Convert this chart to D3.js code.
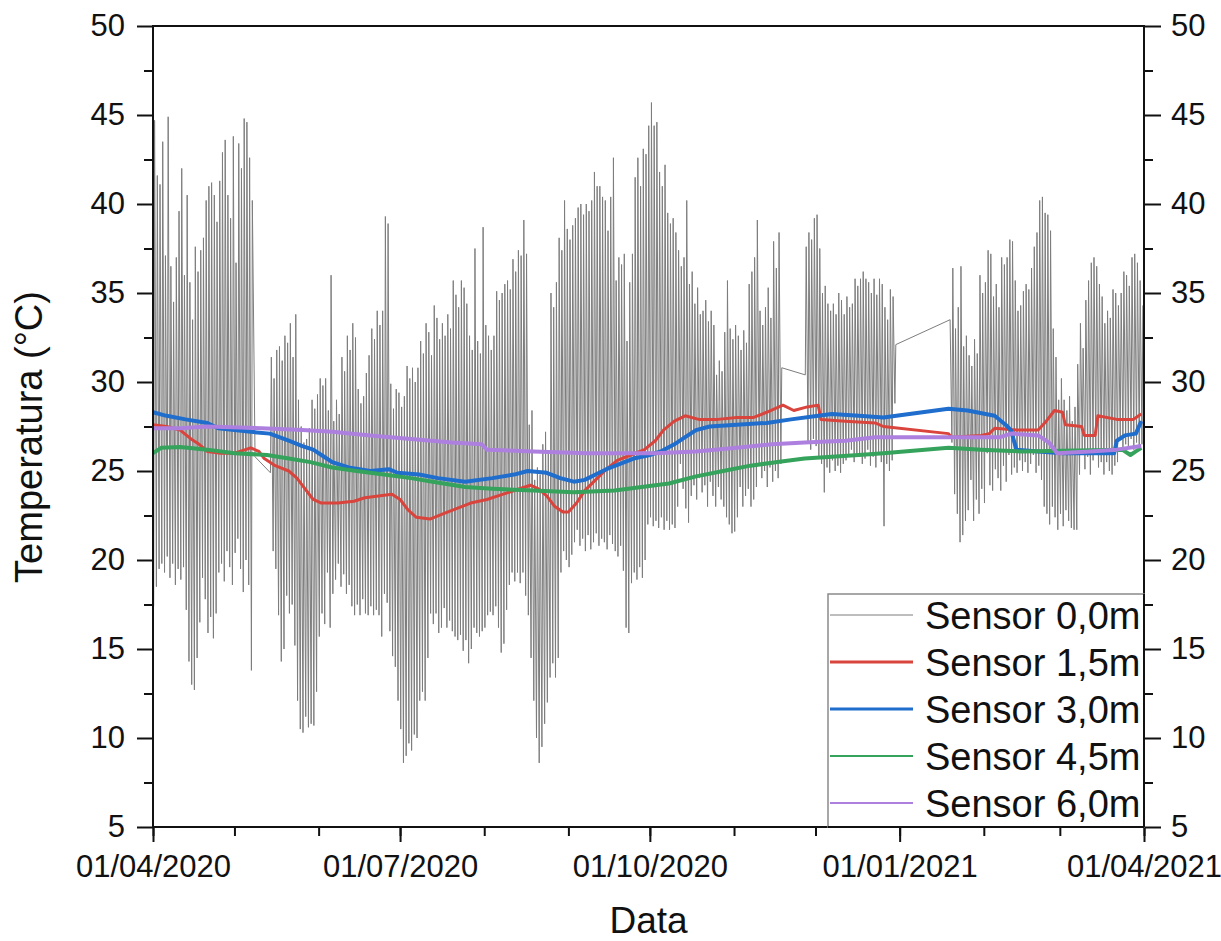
<!DOCTYPE html>
<html>
<head>
<meta charset="utf-8">
<script src="https://cdn.jsdelivr.net/npm/d3@7"></script>
<style>
  body { margin: 0; background: #fff; }
  svg text { font-family: "Liberation Sans", Arial, Helvetica, sans-serif; fill: #111; }
</style>
</head>
<body>
<div id="chart"></div>
<script>
// ---- data ----
// Sensor 0,0m: daily max / min, index = days since startDay (null = no record)
const startDay = "2020-04-01";
const surfaceMax = [
  44.7, 41.6, 41.1, 43.5, 37.1, 44.9, 36.5, 34.5, 37.0, 39.6,
  42.0, 36.0, 40.5, 35.6, 33.5, 37.6, 36.2, 37.4, 38.1, 40.2,
  41.0, 41.2, 40.5, 39.0, 41.3, 42.9, 43.6, 40.5, 39.2, 43.8,
  36.7, 43.4, 42.0, 44.8, 44.6, 42.6, 40.2, 25.8, null, null,
  null, null, null, 31.4, 30.2, 31.8, 32.0, 31.2, 32.6, 32.2,
  33.3, 31.4, 33.8, 29.0, 27.5, 26.6, 26.8, 27.4, 29.0, 28.5,
  29.3, 30.2, 29.8, 30.2, 28.4, 36.0, 27.8, 29.0, 28.2, 31.4,
  30.6, 32.6, 31.8, 33.3, 32.5, 29.6, 28.8, 29.2, 30.5, 31.5,
  33.0, 32.4, 34.0, 33.2, 34.0, 39.3, 38.9, 29.9, 28.5, 29.6,
  29.4, 28.6, 29.2, 30.9, 30.2, 30.8, 30.0, 30.8, 32.3, 31.6,
  33.3, 32.8, 31.5, 34.3, 33.6, 32.4, 33.3, 32.6, 33.8, 33.0,
  35.7, 34.9, 34.2, 35.7, 35.3, 34.4, 32.6, 31.8, 37.5, 32.3,
  31.6, 38.7, 33.2, 32.6, 31.8, 32.6, 35.1, 34.6, 35.0, 35.5,
  35.7, 35.2, 36.9, 36.2, 37.4, 37.1, 39.1, 37.2, 27.6, 28.4,
  24.5, 25.2, 24.8, 26.5, 27.2, 26.0, 35.0, 34.2, 35.6, 38.1,
  37.4, 40.2, 38.6, 38.0, 38.8, 39.2, 39.8, 40.0, 39.4, 40.0,
  39.6, 40.2, 41.8, 41.0, 41.0, 40.4, 40.2, 38.5, 40.4, 42.6,
  35.7, 37.0, 36.6, 37.2, 32.3, 35.6, 37.2, 41.5, 42.6, 41.0,
  43.1, 42.8, 44.4, 45.7, 44.4, 44.6, 41.8, 41.0, 42.2, 39.5,
  38.9, 39.2, 38.4, 37.4, 36.5, 37.0, 40.2, 35.5, 36.2, 34.4,
  35.3, 33.8, 34.0, 34.6, 33.4, 34.0, 33.2, 30.4, 31.2, 30.6,
  32.8, 35.7, 33.0, 32.4, 33.2, 32.6, 31.8, 32.9, 32.2, 35.5,
  36.2, 37.0, 39.1, 34.0, 33.2, 34.2, 35.3, 33.6, 37.9, 36.4,
  38.4, 30.8, null, null, null, null, null, null, null, null,
  37.6, 38.4, 38.0, 39.2, 39.4, 37.5, 35.0, 35.4, 34.4, 34.0,
  34.4, 33.8, 35.0, 34.6, 33.8, 34.8, 34.2, 34.4, 35.8, 35.4,
  35.8, 36.2, 35.8, 35.6, 35.0, 35.8, 34.9, 35.8, 35.5, 34.2,
  33.5, 35.2, 34.8, 32.1, null, null, null, null, null, null,
  null, null, null, null, null, null, null, null, null, null,
  null, null, null, 33.5, 36.4, 33.0, 34.2, 36.5, 32.0, 32.6,
  31.5, 30.9, 32.4, 31.6, 36.0, 35.0, 35.6, 37.4, 37.2, 34.8,
  35.5, 34.2, 37.0, 36.6, 37.0, 38.0, 37.9, 35.7, 34.0, 34.3,
  35.1, 35.5, 35.2, 36.4, 37.6, 38.4, 40.2, 40.4, 39.5, 39.4,
  38.5, 33.0, 31.4, 29.0, 30.2, 29.0, 28.4, 29.2, 27.8, 28.6,
  31.0, 33.3, 31.9, 34.6, 35.7, 36.7, 37.0, 36.5, 35.5, 34.8,
  33.3, 34.0, 33.6, 35.2, 35.0, 34.3, 35.0, 36.2, 36.0, 35.4,
  37.0, 37.2, 36.7, 35.7, 34.3
];
const surfaceMin = [
  17.4, 18.5, 19.5, 19.8, 19.3, 20.2, 19.0, 19.8, 18.6, 19.5,
  18.9, 19.6, 17.2, 14.3, 13.0, 12.7, 14.5, 16.5, 19.0, 17.8,
  15.9, 16.8, 15.6, 17.0, 19.3, 19.8, 18.8, 20.5, 19.6, 18.6,
  20.4, 21.2, 19.5, 18.2, 20.0, 18.6, 13.8, null, null, null,
  null, null, null, 24.9, 20.5, 19.5, 16.9, 14.3, 15.0, 18.0,
  17.0, 17.5, 15.2, 12.1, 10.5, 10.3, 11.2, 10.6, 10.8, 10.7,
  12.6, 15.7, 17.0, 16.4, 19.3, 16.2, 18.1, 18.9, 19.8, 18.5,
  19.2, 18.1, 18.6, 17.4, 16.9, 17.5, 16.9, 17.8, 17.0, 16.9,
  17.4, 16.9, 17.2, 16.9, 15.7, 18.1, 17.6, 16.0, 14.6, 14.0,
  12.1, 10.5, 8.6, 9.0, 9.7, 9.3, 10.2, 10.0, 12.1, 12.6,
  12.1, 14.5, 17.0, 16.4, 17.0, 15.9, 16.2, 17.3, 16.2, 16.6,
  16.0, 15.7, 15.5, 15.8, 14.9, 15.5, 14.2, 15.0, 16.2, 15.9,
  15.7, 16.0, 16.2, 16.9, 17.1, 16.9, 17.4, 16.2, 14.8, 15.3,
  17.2, 18.6, 19.3, 18.8, 19.3, 18.7, 19.3, 18.0, 16.9, 14.5,
  12.1, 10.0, 8.6, 9.5, 10.8, 12.0, 13.4, 14.2, 13.4, 14.5,
  19.3, 20.5, 20.0, 19.6, 20.3, 21.0, 21.7, 20.8, 21.2, 20.5,
  21.4, 20.6, 21.0, 21.5, 20.8, 21.2, 21.0, 20.6, 21.4, 20.9,
  20.5, 20.2, 20.8, 19.4, 16.2, 15.9, 18.7, 19.3, 18.9, 19.6,
  19.0, 20.0, 22.0, 22.4, 21.9, 22.2, 21.8, 22.4, 21.7, 22.2,
  21.7, 22.0, 21.8, 23.0, 25.4, 24.0, 22.9, 22.1, 23.6, 24.2,
  23.4, 24.6, 23.8, 24.2, 23.0, 24.4, 23.6, 23.0, 24.1, 23.4,
  23.0, 22.4, 22.0, 21.5, 21.6, 22.4, 24.1, 23.0, 23.6, 24.0,
  23.0, 23.4, 24.1, 25.4, 24.6, 25.0, 24.1, 25.2, 24.4, 25.0,
  24.6, 25.4, null, null, null, null, null, null, null, null,
  30.4, 26.6, 26.2, 26.8, 26.4, 25.8, 25.4, 23.8, 25.2, 24.9,
  25.6, 25.0, 25.3, 24.9, 25.4, 25.6, 25.9, 26.2, 25.5, 25.8,
  26.0, 25.4, 25.7, 26.2, 25.3, 25.8, 25.2, 25.9, 25.5, 21.9,
  25.4, 25.0, 25.6, 28.8, null, null, null, null, null, null,
  null, null, null, null, null, null, null, null, null, null,
  null, null, null, null, 26.6, 23.7, 22.6, 21.0, 21.4, 22.2,
  22.8, 24.5, 22.2, 23.4, 22.6, 24.0, 23.2, 26.0, 24.2, 23.9,
  25.1, 24.6, 23.9, 25.3, 24.4, 25.9, 24.8, 25.2, 24.9, 25.6,
  25.0, 25.5, 24.9, 25.4, 25.9, 24.9, 25.3, 24.5, 23.0, 22.6,
  22.0, 23.0, 22.4, 21.7, 22.6, 21.9, 22.8, 22.2, 21.8, 21.7,
  21.7, 24.8, 26.2, 25.1, 25.8, 24.8, 25.6, 26.0, 25.2, 25.5,
  24.8, 25.5, 25.0, 24.8, 25.3, 25.5, 26.8, 26.2, 26.5, 26.4,
  26.8, 26.2, 26.6, 26.3, 26.5
];

const sensor15 = [
  ["2020-04-01", 27.6], ["2020-04-06", 27.5], ["2020-04-11", 27.3], ["2020-04-15", 26.8],
  ["2020-04-18", 26.5], ["2020-04-21", 26.1], ["2020-04-26", 26.0], ["2020-05-01", 26.0],
  ["2020-05-07", 26.3], ["2020-05-10", 26.1], ["2020-05-12", 25.7], ["2020-05-16", 25.3],
  ["2020-05-21", 25.0], ["2020-05-24", 24.6], ["2020-05-27", 24.0], ["2020-05-30", 23.4],
  ["2020-06-02", 23.2], ["2020-06-08", 23.2], ["2020-06-14", 23.3], ["2020-06-18", 23.5],
  ["2020-06-23", 23.6], ["2020-06-28", 23.7], ["2020-07-01", 23.4], ["2020-07-04", 22.8],
  ["2020-07-07", 22.4], ["2020-07-12", 22.3], ["2020-07-17", 22.6], ["2020-07-22", 22.9],
  ["2020-07-27", 23.2], ["2020-08-02", 23.4], ["2020-08-08", 23.7], ["2020-08-14", 24.0],
  ["2020-08-18", 24.2], ["2020-08-21", 24.0], ["2020-08-24", 23.6], ["2020-08-27", 23.0],
  ["2020-08-30", 22.7], ["2020-09-01", 22.7], ["2020-09-04", 23.2], ["2020-09-07", 23.9],
  ["2020-09-11", 24.5], ["2020-09-15", 25.1], ["2020-09-19", 25.6], ["2020-09-24", 25.9],
  ["2020-09-29", 26.2], ["2020-10-03", 26.7], ["2020-10-06", 27.3], ["2020-10-10", 27.8],
  ["2020-10-14", 28.1], ["2020-10-19", 27.9], ["2020-10-26", 27.9], ["2020-11-02", 28.0],
  ["2020-11-08", 28.0], ["2020-11-13", 28.3], ["2020-11-19", 28.7], ["2020-11-23", 28.4],
  ["2020-11-28", 28.6], ["2020-12-02", 28.7], ["2020-12-03", 27.9], ["2020-12-12", 27.8],
  ["2020-12-23", 27.7], ["2020-12-26", 27.5], ["2021-01-19", 27.1], ["2021-01-20", 26.9],
  ["2021-01-31", 27.0], ["2021-02-03", 27.1], ["2021-02-05", 27.4], ["2021-02-13", 27.3],
  ["2021-02-21", 27.3], ["2021-02-24", 27.8], ["2021-02-27", 28.4], ["2021-03-02", 28.3],
  ["2021-03-03", 27.6], ["2021-03-09", 27.5], ["2021-03-10", 27.0], ["2021-03-14", 27.0],
  ["2021-03-15", 28.1], ["2021-03-22", 27.9], ["2021-03-28", 27.9], ["2021-03-31", 28.2]
];
const sensor30 = [
  ["2020-04-01", 28.3], ["2020-04-06", 28.1], ["2020-04-13", 27.9], ["2020-04-21", 27.7],
  ["2020-04-25", 27.4], ["2020-05-01", 27.3], ["2020-05-07", 27.2], ["2020-05-14", 27.1],
  ["2020-05-21", 26.7], ["2020-05-26", 26.4], ["2020-05-30", 26.2], ["2020-06-03", 25.8],
  ["2020-06-06", 25.5], ["2020-06-12", 25.2], ["2020-06-20", 25.0], ["2020-06-27", 25.1],
  ["2020-06-30", 24.9], ["2020-07-08", 24.8], ["2020-07-15", 24.6], ["2020-07-25", 24.4],
  ["2020-08-04", 24.6], ["2020-08-12", 24.8], ["2020-08-17", 25.0], ["2020-08-24", 24.9],
  ["2020-08-29", 24.6], ["2020-09-03", 24.4], ["2020-09-07", 24.5], ["2020-09-11", 24.8],
  ["2020-09-15", 25.1], ["2020-09-20", 25.4], ["2020-09-25", 25.7], ["2020-10-01", 25.9],
  ["2020-10-05", 26.1], ["2020-10-10", 26.5], ["2020-10-14", 26.9], ["2020-10-18", 27.3],
  ["2020-10-23", 27.5], ["2020-11-02", 27.6], ["2020-11-13", 27.7], ["2020-11-22", 27.9],
  ["2020-12-02", 28.1], ["2020-12-07", 28.2], ["2020-12-17", 28.1], ["2020-12-26", 28.0],
  ["2021-01-19", 28.5], ["2021-01-26", 28.4], ["2021-02-05", 28.1], ["2021-02-09", 27.6],
  ["2021-02-11", 27.3], ["2021-02-13", 26.2], ["2021-02-21", 26.1], ["2021-03-02", 26.0],
  ["2021-03-13", 26.0], ["2021-03-21", 26.0], ["2021-03-22", 26.7], ["2021-03-25", 27.0],
  ["2021-03-29", 27.1], ["2021-03-31", 27.8]
];
const sensor45 = [
  ["2020-04-01", 26.0], ["2020-04-04", 26.3], ["2020-04-11", 26.35], ["2020-04-21", 26.2],
  ["2020-05-01", 26.0], ["2020-05-13", 25.9], ["2020-05-21", 25.7], ["2020-05-29", 25.5],
  ["2020-06-06", 25.2], ["2020-06-15", 25.0], ["2020-06-25", 24.8], ["2020-07-05", 24.6],
  ["2020-07-13", 24.4], ["2020-07-25", 24.1], ["2020-08-04", 24.0], ["2020-08-19", 23.9],
  ["2020-09-03", 23.8], ["2020-09-18", 23.9], ["2020-09-28", 24.1], ["2020-10-08", 24.3],
  ["2020-10-18", 24.7], ["2020-10-28", 25.0], ["2020-11-07", 25.3], ["2020-11-17", 25.5],
  ["2020-11-27", 25.7], ["2020-12-07", 25.8], ["2020-12-17", 25.9], ["2020-12-26", 26.0],
  ["2021-01-19", 26.3], ["2021-01-31", 26.2], ["2021-02-15", 26.1], ["2021-03-07", 26.15],
  ["2021-03-24", 26.2], ["2021-03-27", 25.9], ["2021-03-29", 26.1], ["2021-03-31", 26.3]
];
const sensor60 = [
  ["2020-04-01", 27.4], ["2020-04-11", 27.4], ["2020-04-21", 27.5], ["2020-05-11", 27.4],
  ["2020-05-26", 27.3], ["2020-06-06", 27.2], ["2020-06-20", 27.0], ["2020-07-05", 26.8],
  ["2020-07-20", 26.6], ["2020-07-31", 26.5], ["2020-08-02", 26.2], ["2020-08-19", 26.1],
  ["2020-09-08", 26.0], ["2020-10-03", 26.0], ["2020-10-18", 26.1], ["2020-11-02", 26.3],
  ["2020-11-15", 26.5], ["2020-11-27", 26.6], ["2020-12-12", 26.7], ["2020-12-23", 26.9],
  ["2020-12-26", 26.9], ["2021-01-19", 26.9], ["2021-02-07", 26.9], ["2021-02-11", 27.1],
  ["2021-02-21", 27.0], ["2021-02-25", 26.6], ["2021-02-28", 26.0], ["2021-03-12", 26.1],
  ["2021-03-22", 26.2], ["2021-03-31", 26.4]
];

const seriesNames = ["Sensor 0,0m", "Sensor 1,5m", "Sensor 3,0m", "Sensor 4,5m", "Sensor 6,0m"];
const seriesColors = ["#7d7d7d", "#d9443c", "#1f6dcc", "#35a35c", "#ad80e0"];
const xTickDates = ["2020-04-01", "2020-07-01", "2020-10-01", "2021-01-01", "2021-04-01"];
const yMajorTicks = [5, 10, 15, 20, 25, 30, 35, 40, 45, 50];
const yMinorTicks = [7.5, 12.5, 17.5, 22.5, 27.5, 32.5, 37.5, 42.5, 47.5];

// ---- chart ----
const margin = {top: 26, right: 77, bottom: 114, left: 153},
    width = 1221 - margin.left - margin.right,
    height = 941 - margin.top - margin.bottom;

const svg = d3.select("#chart")
    .append("svg")
    .attr("width", width + margin.left + margin.right)
    .attr("height", height + margin.top + margin.bottom)
    .append("g")
    .attr("transform", "translate(" + margin.left + "," + margin.top + ")");

const parseDay = d3.timeParse("%Y-%m-%d");
const t0 = parseDay(startDay);

const x = d3.scaleTime()
    .domain([parseDay(xTickDates[0]), parseDay(xTickDates[xTickDates.length - 1])])
    .range([0, width]);
const y = d3.scaleLinear()
    .domain([5, 50])
    .range([height, 0]);

// surface sensor: min in the early morning, max in the afternoon of each day
const surface = [];
surfaceMin.forEach(function(lo, i) {
  const day = d3.timeDay.offset(t0, i);
  if (lo != null) surface.push({date: d3.timeHour.offset(day, 6), value: lo});
  if (surfaceMax[i] != null) surface.push({date: d3.timeHour.offset(day, 14), value: surfaceMax[i]});
});

const deep = [sensor15, sensor30, sensor45, sensor60].map(function(s) {
  return s.map(function(d) { return {date: parseDay(d[0]), value: d[1]}; });
});

const line = d3.line()
    .x(function(d) { return x(d.date); })
    .y(function(d) { return y(d.value); });

svg.append("path")
    .datum(surface)
    .attr("fill", "none")
    .attr("stroke", seriesColors[0])
    .attr("stroke-width", 1)
    .attr("d", line);

const widths = [3, 4, 4, 4];
svg.selectAll(".deep")
    .data(deep)
    .enter()
    .append("path")
    .attr("class", "deep")
    .attr("fill", "none")
    .attr("stroke", function(d, i) { return seriesColors[i + 1]; })
    .attr("stroke-width", function(d, i) { return widths[i]; })
    .attr("stroke-linejoin", "round")
    .attr("d", line);

// axes
function styleAxis(g) {
  g.select(".domain").remove();
  g.selectAll("line").attr("stroke", "#111").attr("stroke-width", 2);
  g.selectAll("text").attr("font-size", 31).attr("font-family", null).attr("fill", "#111");
}

svg.append("g")
    .call(d3.axisLeft(y).tickValues(yMajorTicks).tickSize(16).tickPadding(12).tickFormat(d3.format("d")))
    .call(styleAxis);
svg.append("g")
    .call(d3.axisLeft(y).tickValues(yMinorTicks).tickSize(9).tickFormat(""))
    .call(styleAxis);
svg.append("g")
    .attr("transform", "translate(" + width + ",0)")
    .call(d3.axisRight(y).tickValues(yMajorTicks).tickSize(17).tickPadding(10).tickFormat(d3.format("d")))
    .call(styleAxis);
svg.append("g")
    .attr("transform", "translate(" + width + ",0)")
    .call(d3.axisRight(y).tickValues(yMinorTicks).tickSize(9).tickFormat(""))
    .call(styleAxis);

svg.append("g")
    .attr("transform", "translate(0," + height + ")")
    .call(d3.axisBottom(x).tickValues(xTickDates.map(parseDay)).tickSize(15).tickPadding(13)
        .tickFormat(d3.timeFormat("%d/%m/%Y")))
    .call(styleAxis);
svg.append("g")
    .attr("transform", "translate(0," + height + ")")
    .call(d3.axisBottom(x).ticks(d3.timeMonth.every(1)).tickSize(9).tickFormat(""))
    .call(styleAxis);

// frame
svg.append("rect")
    .attr("width", width)
    .attr("height", height)
    .attr("fill", "none")
    .attr("stroke", "#111")
    .attr("stroke-width", 2);

// legend
const legend = svg.append("g")
    .attr("transform", "translate(" + (width - 316) + "," + (height - 233) + ")");
legend.append("rect")
    .attr("width", 316)
    .attr("height", 233)
    .attr("fill", "#fff")
    .attr("stroke", "#8a8a8a")
    .attr("stroke-width", 1.5);
const legendWidths = [1, 3, 3, 2, 2];
const item = legend.selectAll(".item")
    .data(seriesNames)
    .enter()
    .append("g")
    .attr("class", "item")
    .attr("transform", function(d, i) { return "translate(0," + (21 + i * 47) + ")"; });
item.append("line")
    .attr("x1", 2).attr("x2", 85)
    .attr("stroke", function(d, i) { return seriesColors[i]; })
    .attr("stroke-width", function(d, i) { return legendWidths[i]; });
item.append("text")
    .attr("x", 97)
    .attr("dy", "0.36em")
    .attr("font-size", 38)
    .text(function(d) { return d; });
// redraw the frame edges the legend box sits on
svg.append("line").attr("x1", width).attr("x2", width).attr("y1", height - 233).attr("y2", height)
    .attr("stroke", "#111").attr("stroke-width", 2);
svg.append("line").attr("x1", width - 316).attr("x2", width).attr("y1", height).attr("y2", height)
    .attr("stroke", "#111").attr("stroke-width", 2);

// axis titles
svg.append("text")
    .attr("text-anchor", "middle")
    .attr("x", width / 2)
    .attr("y", height + 106)
    .attr("font-size", 37)
    .text("Data");
svg.append("text")
    .attr("text-anchor", "middle")
    .attr("transform", "translate(" + (42 - margin.left) + "," + (437 - margin.top) + ") rotate(-90)")
    .attr("font-size", 38)
    .text("Temperatura (°C)");
</script>
</body>
</html>
